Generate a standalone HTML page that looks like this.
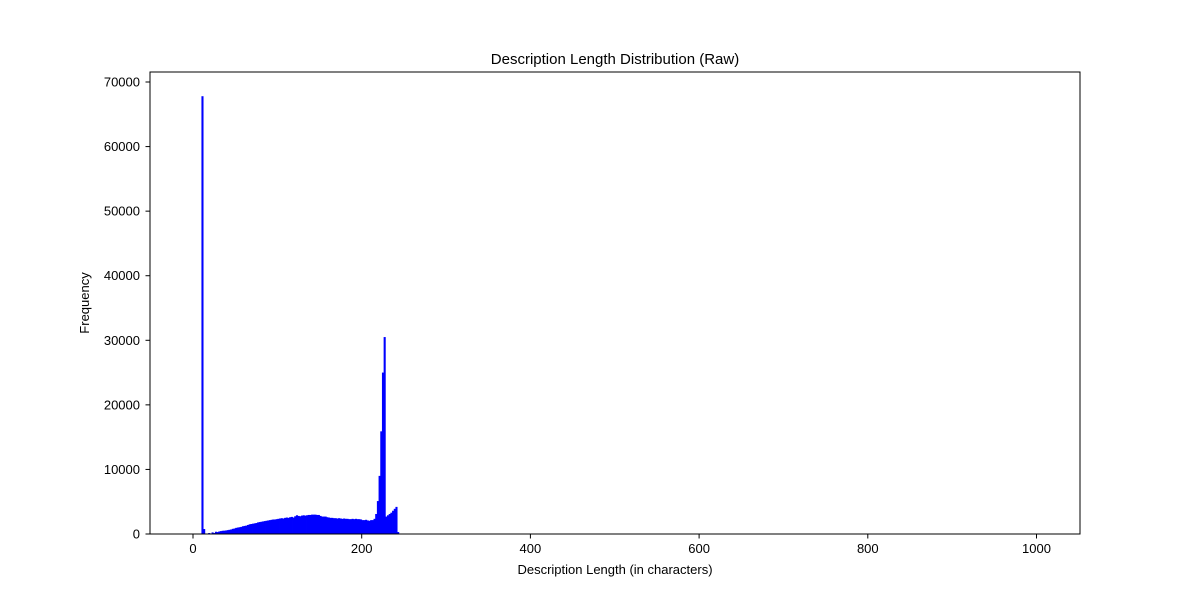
<!DOCTYPE html>
<html><head><meta charset="utf-8"><style>
body{margin:0;background:#fff;}
svg text{font-family:"Liberation Sans","DejaVu Sans",sans-serif;fill:#000;}
</style></head><body>
<svg id="chart" width="1200" height="600" xmlns="http://www.w3.org/2000/svg">
<rect width="1200" height="600" fill="#fff"/>
<text x="615" y="64" font-size="15" text-anchor="middle">Description Length Distribution (Raw)</text>
<g id="bars"></g>
<g id="axes"></g>
<rect x="150" y="72" width="930" height="462" fill="none" stroke="#000" stroke-width="1"/>
<text x="615" y="574" font-size="13" text-anchor="middle">Description Length (in characters)</text>
<text transform="translate(89,303) rotate(-90)" font-size="13" text-anchor="middle">Frequency</text>
</svg>
<script>
const binStart = 10;
const binWidth = 2;
const counts = [67800,770,0,0,150,0,250,150,350,300,400,450,500,520,550,600,650,700,800,850,950,1000,1050,1100,1200,1250,1300,1400,1500,1550,1600,1650,1700,1800,1850,1900,1950,2000,2050,2100,2150,2200,2250,2250,2300,2350,2400,2450,2400,2500,2550,2500,2600,2650,2550,2750,2900,2800,2750,2850,2900,2850,2900,2950,2950,3000,3000,3000,2950,2950,2800,2700,2700,2700,2600,2550,2500,2500,2450,2450,2400,2450,2400,2350,2400,2350,2350,2300,2300,2350,2300,2350,2300,2300,2250,2150,2150,2200,2100,2050,2150,2150,2350,3100,5100,9000,15900,25000,30500,2700,2900,3100,3300,3600,3900,4200,300];
const xTicks = [0,200,400,600,800,1000];
const yTicks = [0,10000,20000,30000,40000,50000,60000,70000];
const NS="http://www.w3.org/2000/svg";
const xs = v => 193 + v*0.8435;
const ys = v => 534 - v*0.006457;
const bars=document.getElementById('bars');
counts.forEach((c,i)=>{
  const x0=xs(binStart+i*binWidth), x1=xs(binStart+(i+1)*binWidth);
  const r=document.createElementNS(NS,'rect');
  r.setAttribute('x',x0);r.setAttribute('width',Math.max(x1-x0+0.4,0.9));
  r.setAttribute('y',ys(c));r.setAttribute('height',534-ys(c));
  r.setAttribute('fill','#0000ff');
  
  
  bars.appendChild(r);
});
const ax=document.getElementById('axes');
xTicks.forEach(t=>{
  const l=document.createElementNS(NS,'line');
  l.setAttribute('x1',xs(t));l.setAttribute('x2',xs(t));l.setAttribute('y1',534);l.setAttribute('y2',538.5);l.setAttribute('stroke','#000');
  
  
  ax.appendChild(l);
  const tx=document.createElementNS(NS,'text');
  tx.setAttribute('x',xs(t));tx.setAttribute('y',553);tx.setAttribute('font-size','13');tx.setAttribute('text-anchor','middle');
  tx.textContent=t;
  
  
  ax.appendChild(tx);
});
yTicks.forEach(t=>{
  const l=document.createElementNS(NS,'line');
  l.setAttribute('x1',145.5);l.setAttribute('x2',150);l.setAttribute('y1',ys(t));l.setAttribute('y2',ys(t));l.setAttribute('stroke','#000');
  
  
  ax.appendChild(l);
  const tx=document.createElementNS(NS,'text');
  tx.setAttribute('x',140);tx.setAttribute('y',ys(t)+4.5);tx.setAttribute('font-size','13');tx.setAttribute('text-anchor','end');
  tx.textContent=t;
  
  
  ax.appendChild(tx);
});
</script>
</body></html>
